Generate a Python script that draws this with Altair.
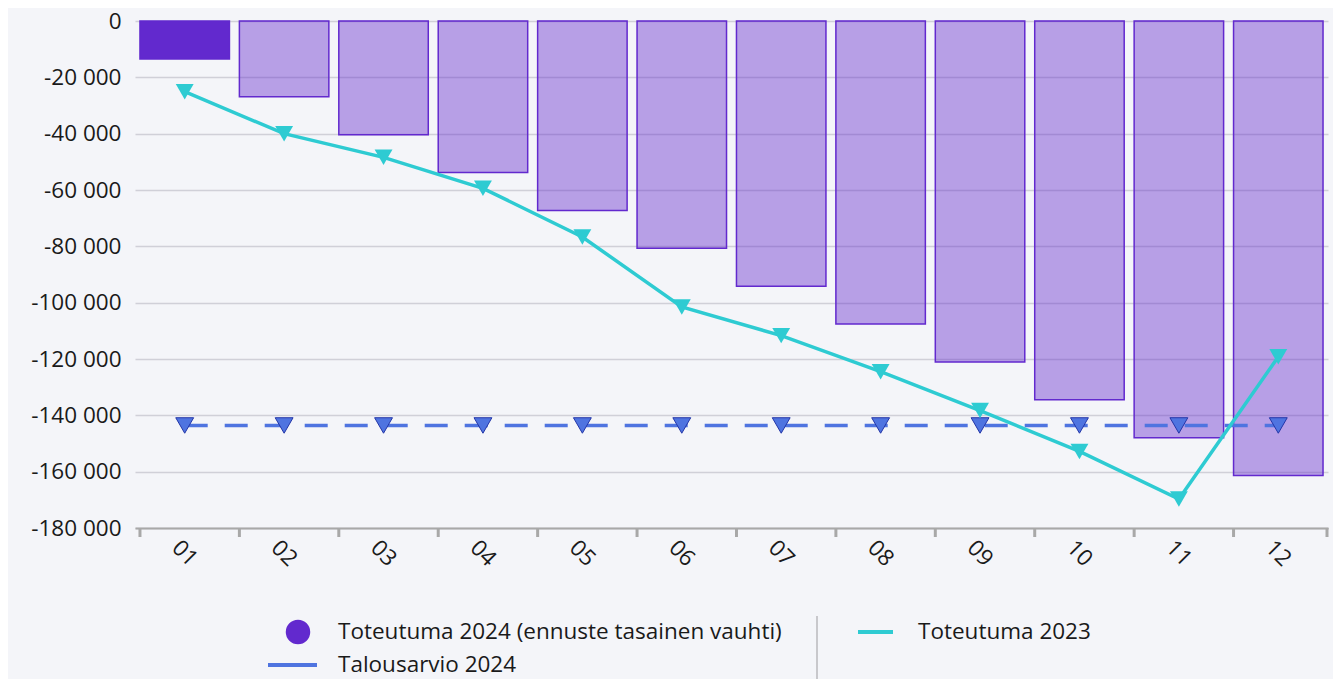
import altair as alt
import pandas as pd

months = ["01", "02", "03", "04", "05", "06", "07", "08", "09", "10", "11", "12"]
status_2024 = ["toteutuma"] + ["ennuste"] * 11
toteutuma_2024 = [-13450, -26900, -40350, -53800, -67250, -80700, -94150, -107600,
                  -121050, -134500, -147950, -161400]
toteutuma_2023 = [-25100, -40000, -48400, -59400, -76700, -101500, -111700, -124500,
                  -138300, -152800, -169700, -119200]
talousarvio_2024 = [-143600] * 12
y_ticks = list(range(-180000, 1, 20000))
legend_labels = ["Toteutuma 2024 (ennuste tasainen vauhti)", "Toteutuma 2023", "Talousarvio 2024"]

df = pd.DataFrame({
    "kk": months,
    "tila": status_2024,
    "t2024": toteutuma_2024,
    "t2023": toteutuma_2023,
    "ta2024": talousarvio_2024,
})

W, H = 1193, 507
FONT = "Open Sans"
FS = 22.5
PURPLE = "#6229CE"
TURQ = "#2ECBD2"
BLUE = "#4F74E0"
TXT = "#1A1A1A"

x_scale = alt.Scale(paddingInner=0.1, paddingOuter=0.05)
x_axis = alt.Axis(title=None, labelAngle=45, labelAlign="center", labelBaseline="middle",
                  labelPadding=25, ticks=False, domainColor="#A8A8A8", domainWidth=2,
                  labelFontSize=FS, labelColor=TXT, labelFont=FONT, grid=False)
y_scale = alt.Scale(domain=[-180000, 0], nice=False)
y_axis = alt.Axis(title=None, values=y_ticks, grid=True, gridColor="#D0D0D8", gridWidth=1.5,
                  domain=False, ticks=False, labelPadding=14, labelFontSize=FS,
                  labelColor=TXT, labelFont=FONT,
                  labelExpr="(datum.value < 0 ? '-' : '') + replace(format(abs(datum.value), ','), ',', ' ')")

def X(**kw):
    return alt.X("kk:O", scale=x_scale, axis=x_axis, **kw)

def Y(field):
    return alt.Y(field, scale=y_scale, axis=y_axis)

base = alt.Chart(df)

bars = base.mark_bar(strokeWidth=1.5, color=PURPLE, stroke=PURPLE).encode(
    x=X(),
    y=Y("t2024:Q"),
    fillOpacity=alt.FillOpacity("tila:N", scale=alt.Scale(domain=["toteutuma", "ennuste"], range=[1, 0.42]), legend=None),
)

ticks = base.mark_rule(color="#A8A8A8", strokeWidth=3).encode(
    x=X(bandPosition=0), y=alt.value(H), y2=alt.value(H + 9)
)
end_tick = alt.Chart(pd.DataFrame({"a": [0]})).mark_rule(color="#A8A8A8", strokeWidth=3).encode(
    x=alt.value(W - 1), y=alt.value(H), y2=alt.value(H + 9)
)

budget_line = base.mark_line(color=BLUE, strokeWidth=3.5, strokeDash=[23, 17]).encode(
    x=X(), y=Y("ta2024:Q")
)
budget_pts = base.mark_point(shape="triangle-down", filled=True, fill=BLUE, stroke="#2436A8",
                             strokeWidth=1, size=320, opacity=1).encode(x=X(), y=Y("ta2024:Q"))

line23 = base.mark_line(color=TURQ, strokeWidth=3.5).encode(x=X(), y=Y("t2023:Q"))
pts23 = base.mark_point(shape="triangle-down", filled=True, fill=TURQ, size=320, opacity=1).encode(
    x=X(), y=Y("t2023:Q"))

# legend
one = pd.DataFrame({"a": [0]})
LY1, LY2 = 611, 644
leg_circle = alt.Chart(one).mark_point(shape="circle", filled=True, color=PURPLE, size=600, opacity=1).encode(
    x=alt.value(163), y=alt.value(LY1))
leg_t1 = alt.Chart(pd.DataFrame({"t": [legend_labels[0]]})).mark_text(
    align="left", baseline="middle", fontSize=FS, font=FONT, color=TXT).encode(
    text="t:N", x=alt.value(203), y=alt.value(LY1))
leg_div = alt.Chart(one).mark_rule(color="#C8C8CC", strokeWidth=2).encode(
    x=alt.value(682), y=alt.value(595), y2=alt.value(700))
leg_l2 = alt.Chart(one).mark_rule(color=TURQ, strokeWidth=4).encode(
    x=alt.value(723), x2=alt.value(758), y=alt.value(LY1))
leg_t2 = alt.Chart(pd.DataFrame({"t": [legend_labels[1]]})).mark_text(
    align="left", baseline="middle", fontSize=FS, font=FONT, color=TXT).encode(
    text="t:N", x=alt.value(783), y=alt.value(LY1))
leg_l3 = alt.Chart(one).mark_rule(color=BLUE, strokeWidth=4).encode(
    x=alt.value(133), x2=alt.value(182), y=alt.value(LY2))
leg_t3 = alt.Chart(pd.DataFrame({"t": [legend_labels[2]]})).mark_text(
    align="left", baseline="middle", fontSize=FS, font=FONT, color=TXT).encode(
    text="t:N", x=alt.value(203), y=alt.value(LY2))

chart = alt.layer(
    bars, ticks, end_tick, budget_line, budget_pts, line23, pts23,
    leg_circle, leg_t1, leg_div, leg_l2, leg_t2, leg_l3, leg_t3
).properties(
    width=W, height=H,
    background="#F4F5F9",
    padding={"left": 127, "top": 13, "right": 5, "bottom": 151},
    autosize=alt.AutoSizeParams(type="none"),
).configure_view(stroke=None)

chart.save("out.html", embed_options={"renderer": "svg", "actions": False})
